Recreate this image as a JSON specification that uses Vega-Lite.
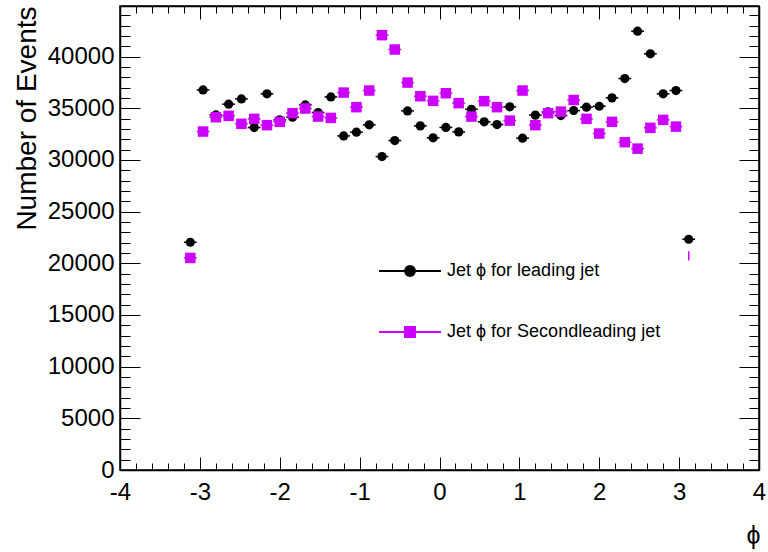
{
  "$schema": "https://vega.github.io/schema/vega-lite/v6.json",
  "width": 639,
  "height": 464,
  "autosize": "none",
  "padding": {"left": 120, "top": 6, "right": 9, "bottom": 82},
  "background": "white",
  "config": {
    "view": {"stroke": "black", "strokeWidth": 1.5},
    "font": "Liberation Sans",
    "axis": {"grid": false, "domainColor": "black", "domainWidth": 1.5, "tickColor": "black", "tickWidth": 1, "labelColor": "black", "labelFont": "Liberation Sans", "titleFont": "Liberation Sans", "titleColor": "black", "titleFontWeight": "normal", "labelFlush": false, "labelOverlap": false, "labelBound": false}
  },
  "data": {
    "values": [
      {"phi": -3.12, "series": "lead", "n": 22040},
      {"phi": -2.96, "series": "lead", "n": 36780},
      {"phi": -2.80, "series": "lead", "n": 34360},
      {"phi": -2.64, "series": "lead", "n": 35400},
      {"phi": -2.48, "series": "lead", "n": 35910},
      {"phi": -2.32, "series": "lead", "n": 33140},
      {"phi": -2.16, "series": "lead", "n": 36400},
      {"phi": -2.00, "series": "lead", "n": 33880},
      {"phi": -1.84, "series": "lead", "n": 34140},
      {"phi": -1.68, "series": "lead", "n": 35330},
      {"phi": -1.52, "series": "lead", "n": 34590},
      {"phi": -1.36, "series": "lead", "n": 36100},
      {"phi": -1.20, "series": "lead", "n": 32330},
      {"phi": -1.04, "series": "lead", "n": 32690},
      {"phi": -0.88, "series": "lead", "n": 33400},
      {"phi": -0.72, "series": "lead", "n": 30330},
      {"phi": -0.56, "series": "lead", "n": 31880},
      {"phi": -0.40, "series": "lead", "n": 34750},
      {"phi": -0.24, "series": "lead", "n": 33300},
      {"phi": -0.08, "series": "lead", "n": 32140},
      {"phi": 0.08, "series": "lead", "n": 33150},
      {"phi": 0.24, "series": "lead", "n": 32720},
      {"phi": 0.40, "series": "lead", "n": 34910},
      {"phi": 0.56, "series": "lead", "n": 33690},
      {"phi": 0.72, "series": "lead", "n": 33430},
      {"phi": 0.88, "series": "lead", "n": 35140},
      {"phi": 1.04, "series": "lead", "n": 32110},
      {"phi": 1.20, "series": "lead", "n": 34340},
      {"phi": 1.36, "series": "lead", "n": 34650},
      {"phi": 1.52, "series": "lead", "n": 34300},
      {"phi": 1.68, "series": "lead", "n": 34780},
      {"phi": 1.84, "series": "lead", "n": 35110},
      {"phi": 2.00, "series": "lead", "n": 35200},
      {"phi": 2.16, "series": "lead", "n": 36010},
      {"phi": 2.32, "series": "lead", "n": 37880},
      {"phi": 2.48, "series": "lead", "n": 42460},
      {"phi": 2.64, "series": "lead", "n": 40270},
      {"phi": 2.80, "series": "lead", "n": 36400},
      {"phi": 2.96, "series": "lead", "n": 36720},
      {"phi": 3.12, "series": "lead", "n": 22330},
      {"phi": -3.12, "series": "second", "n": 20520},
      {"phi": -2.96, "series": "second", "n": 32750},
      {"phi": -2.80, "series": "second", "n": 34140},
      {"phi": -2.64, "series": "second", "n": 34270},
      {"phi": -2.48, "series": "second", "n": 33500},
      {"phi": -2.32, "series": "second", "n": 33980},
      {"phi": -2.16, "series": "second", "n": 33370},
      {"phi": -2.00, "series": "second", "n": 33690},
      {"phi": -1.84, "series": "second", "n": 34530},
      {"phi": -1.68, "series": "second", "n": 34980},
      {"phi": -1.52, "series": "second", "n": 34200},
      {"phi": -1.36, "series": "second", "n": 34070},
      {"phi": -1.20, "series": "second", "n": 36520},
      {"phi": -1.04, "series": "second", "n": 35110},
      {"phi": -0.88, "series": "second", "n": 36720},
      {"phi": -0.72, "series": "second", "n": 42080},
      {"phi": -0.56, "series": "second", "n": 40690},
      {"phi": -0.40, "series": "second", "n": 37490},
      {"phi": -0.24, "series": "second", "n": 36170},
      {"phi": -0.08, "series": "second", "n": 35720},
      {"phi": 0.08, "series": "second", "n": 36460},
      {"phi": 0.24, "series": "second", "n": 35500},
      {"phi": 0.40, "series": "second", "n": 34200},
      {"phi": 0.56, "series": "second", "n": 35690},
      {"phi": 0.72, "series": "second", "n": 35110},
      {"phi": 0.88, "series": "second", "n": 33810},
      {"phi": 1.04, "series": "second", "n": 36720},
      {"phi": 1.20, "series": "second", "n": 33370},
      {"phi": 1.36, "series": "second", "n": 34530},
      {"phi": 1.52, "series": "second", "n": 34680},
      {"phi": 1.68, "series": "second", "n": 35800},
      {"phi": 1.84, "series": "second", "n": 33980},
      {"phi": 2.00, "series": "second", "n": 32560},
      {"phi": 2.16, "series": "second", "n": 33690},
      {"phi": 2.32, "series": "second", "n": 31720},
      {"phi": 2.48, "series": "second", "n": 31100},
      {"phi": 2.64, "series": "second", "n": 33110},
      {"phi": 2.80, "series": "second", "n": 33880},
      {"phi": 2.96, "series": "second", "n": 33230},
      {"phi": 3.12, "series": "second", "n": 20720}
    ]
  },
  "transform": [
    {"calculate": "datum.phi - 0.08", "as": "lo"},
    {"calculate": "datum.phi + 0.08", "as": "hi"}
  ],
  "layer": [
    {
      "transform": [{"filter": "datum.series === 'lead'"}],
      "mark": {"type": "rule", "strokeWidth": 1.5},
      "encoding": {
        "x": {
          "field": "lo", "type": "quantitative",
          "scale": {"domain": [-4, 4], "nice": false, "zero": false},
          "axis": {
            "orient": "bottom",
            "values": [-4, -3.8, -3.6, -3.4, -3.2, -3, -2.8, -2.6, -2.4, -2.2, -2, -1.8, -1.6, -1.4, -1.2, -1, -0.8, -0.6, -0.4, -0.2, 0, 0.2, 0.4, 0.6, 0.8, 1, 1.2, 1.4, 1.6, 1.8, 2, 2.2, 2.4, 2.6, 2.8, 3, 3.2, 3.4, 3.6, 3.8, 4],
            "labelExpr": "abs(datum.value - round(datum.value)) < 1e-6 ? '' + round(datum.value) : ''",
            "tickSize": {"condition": {"test": "abs(datum.value - round(datum.value)) < 1e-6", "value": -13}, "value": -7},
            "labelFontSize": 24,
            "labelPadding": 23,
            "title": "ϕ",
            "titleFontSize": 25,
            "titleX": 640,
            "titleY": 65,
            "titleAlign": "right",
            "titleBaseline": "middle"
          }
        },
        "x2": {"field": "hi"},
        "y": {
          "field": "n", "type": "quantitative",
          "scale": {"domain": [0, 44900], "nice": false},
          "axis": {
            "orient": "left",
            "values": [0, 1000, 2000, 3000, 4000, 5000, 6000, 7000, 8000, 9000, 10000, 11000, 12000, 13000, 14000, 15000, 16000, 17000, 18000, 19000, 20000, 21000, 22000, 23000, 24000, 25000, 26000, 27000, 28000, 29000, 30000, 31000, 32000, 33000, 34000, 35000, 36000, 37000, 38000, 39000, 40000, 41000, 42000, 43000, 44000],
            "labelExpr": "datum.value % 5000 === 0 ? '' + datum.value : ''",
            "tickSize": {"condition": {"test": "datum.value % 5000 === 0", "value": -20}, "value": -10},
            "labelFontSize": 24,
            "labelPadding": 26,
            "title": "Number of Events",
            "titleFontSize": 28,
            "titleAngle": -90,
            "titleX": -93,
            "titleY": 0,
            "titleAlign": "right",
            "titleBaseline": "middle"
          }
        },
        "color": {
          "field": "series", "type": "nominal",
          "scale": {"domain": ["lead", "second"], "range": ["black", "#cc00ff"]},
          "legend": {
            "orient": "none",
            "legendX": 258,
            "legendY": 233,
            "title": null,
            "padding": 0,
            "rowPadding": 20,
            "symbolSize": 3844,
            "symbolStrokeWidth": 2,
            "labelFontSize": 18,
            "labelFont": "Liberation Sans",
            "labelColor": "black",
            "labelOffset": 5,
            "labelLimit": 400,
            "labelExpr": "datum.value === 'lead' ? 'Jet ϕ for leading jet' : 'Jet ϕ for Secondleading jet'",
            "encode": {
              "symbols": {
                "update": {
                  "shape": {"signal": "datum.value === 'lead' ? 'M-1,0H1M-0.16,0A0.16,0.16 0 1,0 0.16,0A0.16,0.16 0 1,0 -0.16,0Z' : 'M-1,0H1M-0.16,-0.16H0.16V0.16H-0.16Z'"},
                  "fill": {"signal": "datum.value === 'lead' ? 'black' : '#cc00ff'"},
                  "stroke": {"signal": "datum.value === 'lead' ? 'black' : '#cc00ff'"},
                  "strokeWidth": {"value": 2},
                  "opacity": {"value": 1},
                  "fillOpacity": {"value": 1},
                  "strokeOpacity": {"value": 1}
                }
              }
            }
          }
        }
      }
    },
    {
      "transform": [{"filter": "datum.series === 'lead'"}],
      "mark": {"type": "point", "shape": "circle", "filled": true, "size": 85, "opacity": 1},
      "encoding": {
        "x": {"field": "phi", "type": "quantitative", "axis": null},
        "y": {"field": "n", "type": "quantitative", "axis": null},
        "color": {"field": "series", "type": "nominal"}
      }
    },
    {
      "transform": [{"filter": "datum.series === 'second' && datum.phi < 3"}],
      "mark": {"type": "rule", "strokeWidth": 1.5},
      "encoding": {
        "x": {
          "field": "lo", "type": "quantitative",
          "axis": {
            "orient": "top",
            "values": [-4, -3.8, -3.6, -3.4, -3.2, -3, -2.8, -2.6, -2.4, -2.2, -2, -1.8, -1.6, -1.4, -1.2, -1, -0.8, -0.6, -0.4, -0.2, 0, 0.2, 0.4, 0.6, 0.8, 1, 1.2, 1.4, 1.6, 1.8, 2, 2.2, 2.4, 2.6, 2.8, 3, 3.2, 3.4, 3.6, 3.8, 4],
            "labels": false,
            "title": null,
            "tickSize": {"condition": {"test": "abs(datum.value - round(datum.value)) < 1e-6", "value": -13}, "value": -7}
          }
        },
        "x2": {"field": "hi"},
        "y": {
          "field": "n", "type": "quantitative",
          "axis": {
            "orient": "right",
            "values": [0, 1000, 2000, 3000, 4000, 5000, 6000, 7000, 8000, 9000, 10000, 11000, 12000, 13000, 14000, 15000, 16000, 17000, 18000, 19000, 20000, 21000, 22000, 23000, 24000, 25000, 26000, 27000, 28000, 29000, 30000, 31000, 32000, 33000, 34000, 35000, 36000, 37000, 38000, 39000, 40000, 41000, 42000, 43000, 44000],
            "labels": false,
            "title": null,
            "tickSize": {"condition": {"test": "datum.value % 5000 === 0", "value": -20}, "value": -10}
          }
        },
        "color": {"field": "series", "type": "nominal"}
      }
    },
    {
      "transform": [{"filter": "datum.series === 'second' && datum.phi < 3"}],
      "mark": {"type": "point", "shape": "square", "filled": true, "size": 110, "opacity": 1},
      "encoding": {
        "x": {"field": "phi", "type": "quantitative", "axis": null},
        "y": {"field": "n", "type": "quantitative", "axis": null},
        "color": {"field": "series", "type": "nominal"}
      }
    },
    {
      "transform": [
        {"filter": "datum.series === 'second' && datum.phi > 3"},
        {"calculate": "datum.n - 450", "as": "elo"},
        {"calculate": "datum.n + 450", "as": "ehi"}
      ],
      "mark": {"type": "rule", "strokeWidth": 1.5},
      "encoding": {
        "x": {"field": "phi", "type": "quantitative", "axis": null},
        "y": {"field": "elo", "type": "quantitative", "axis": null},
        "y2": {"field": "ehi"},
        "color": {"field": "series", "type": "nominal"}
      }
    }
  ],
  "resolve": {"axis": {"x": "independent", "y": "independent"}}
}
